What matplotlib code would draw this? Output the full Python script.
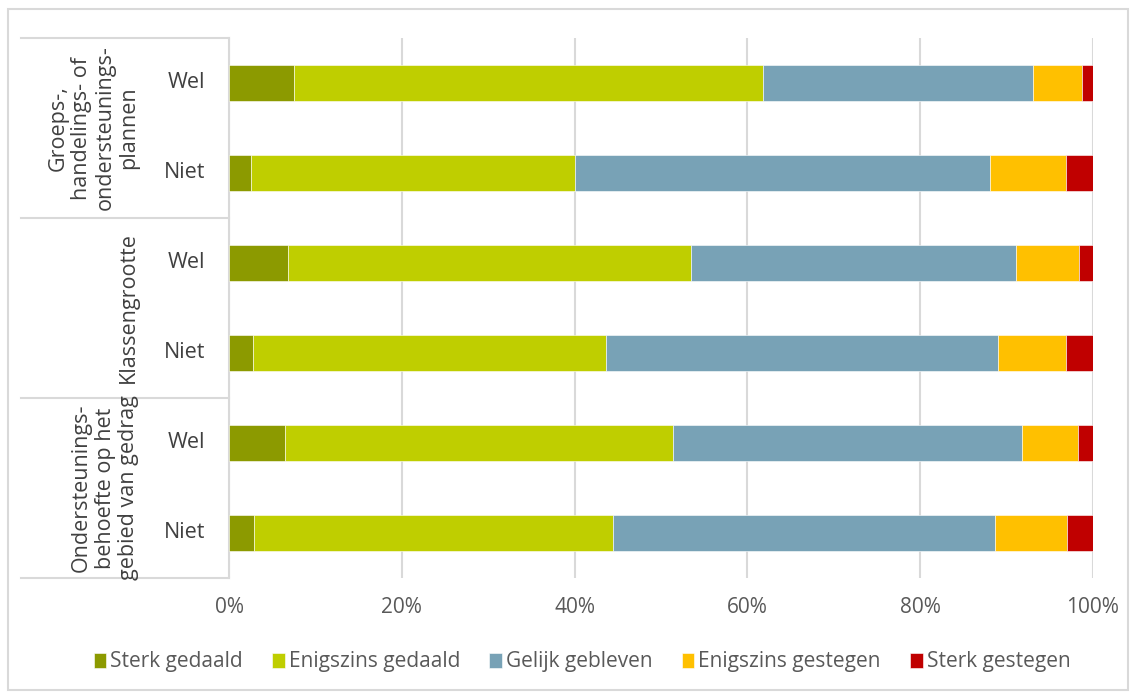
import matplotlib.pyplot as plt
from matplotlib.patches import Rectangle

plt.rcParams['font.family'] = ['Open Sans', 'DejaVu Sans']

# rows from top to bottom
groups = ["Groeps-,\nhandelings- of\nondersteunings-\nplannen",
          "Klassengrootte",
          "Ondersteunings-\nbehoefte op het\ngebied van gedrag"]
rows = ["Wel", "Niet", "Wel", "Niet", "Wel", "Niet"]

series = ["Sterk gedaald", "Enigszins gedaald", "Gelijk gebleven",
          "Enigszins gestegen", "Sterk gestegen"]
sterk_gedaald = [7.5, 2.5, 6.8, 2.8, 6.5, 2.9]
enigszins_gedaald = [54.3, 37.5, 46.7, 40.8, 44.9, 41.6]
gelijk = [31.2, 48.1, 37.6, 45.4, 40.4, 44.2]
enigszins_gestegen = [5.7, 8.8, 7.3, 7.9, 6.5, 8.3]
sterk_gestegen = [1.3, 3.1, 1.6, 3.1, 1.7, 3.0]
colors = ["#8C9A00", "#BFCE00", "#78A2B6", "#FFC000", "#C00000"]

values = [sterk_gedaald, enigszins_gedaald, gelijk, enigszins_gestegen, sterk_gestegen]

fig = plt.figure(figsize=(11.37, 6.95), dpi=100)
W, H = 1137, 695
ax = fig.add_axes([229 / W, 1 - 578 / H, 864 / W, 540 / H])

n = len(rows)
ypos = [n - 1 - i for i in range(n)]
left = [0] * n
for name, vals, c in zip(series, values, colors):
    ax.barh(ypos, vals, left=left, height=0.4, color=c, label=name,
            edgecolor='white', linewidth=0.4, zorder=3)
    left = [l + v for l, v in zip(left, vals)]

ax.set_xlim(0, 100)
ax.set_ylim(-0.5, n - 0.5)
ax.set_xticks(range(0, 101, 20))
ax.set_xticklabels([f"{t}%" for t in range(0, 101, 20)])
ax.grid(axis='x', color='#D9D9D9', linewidth=1.5, zorder=0)
ax.tick_params(axis='x', length=0, pad=14, labelsize=15, labelcolor='#595959')
ax.set_yticks([])
for s in ['top', 'right', 'bottom']:
    ax.spines[s].set_visible(False)
ax.spines['left'].set_color('#D9D9D9')
ax.spines['left'].set_linewidth(1.5)

# category labels
ytr = ax.get_yaxis_transform()
for y, r in zip(ypos, rows):
    ax.text(-24 / 864, y, r, transform=ytr, ha='right', va='center',
            fontsize=15.5, color='#404040')
for gi, g in enumerate(groups):
    yc = n - 1 - (2 * gi + 0.5)
    ax.text(-90 / 864, yc, g, transform=ytr, ha='right', va='center',
            rotation=90, fontsize=15.5, color='#404040', multialignment='center',
            linespacing=1.15)
for yb in [n - 0.5, 3.5, 1.5, -0.5]:
    ax.plot([-208 / 864, 0], [yb, yb], transform=ytr, color='#D9D9D9',
            linewidth=1.5, clip_on=False)

fig.legend(loc='center', bbox_to_anchor=(582 / W, 1 - 662 / H), ncol=5,
           frameon=False, fontsize=15, handlelength=0.6, handleheight=0.75,
           handletextpad=0.2, columnspacing=1.4, labelcolor='#595959')

fig.patches.append(Rectangle((8 / W, 1 - 690 / H), 1120 / W, 681 / H,
                             transform=fig.transFigure, fill=False,
                             edgecolor='#D9D9D9', linewidth=1.5))

fig.savefig("out.png", dpi=100)
